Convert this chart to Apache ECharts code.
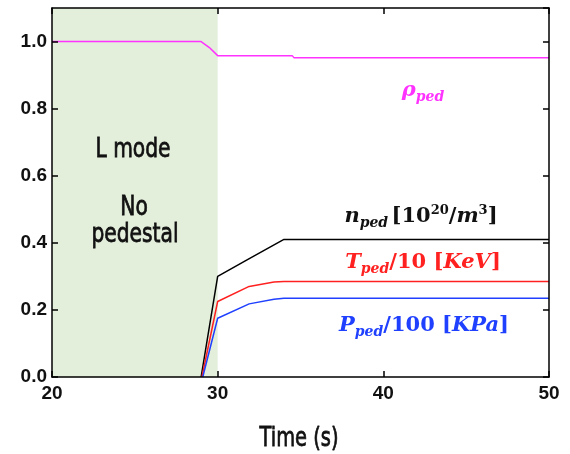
<!DOCTYPE html>
<html>
<head>
<meta charset="utf-8">
<script src="https://cdn.jsdelivr.net/npm/echarts@6/dist/echarts.min.js"></script>
<style>
  html, body { margin: 0; padding: 0; background: #fff; }
  #grafico { width: 570px; height: 454px; }
</style>
</head>
<body>
<div id="grafico"></div>
<script>
// datos: [tiempo (s), valor]
var rho_ped = [[20, 1.0], [29, 1.0], [29.5, 0.982], [30, 0.958], [34.5, 0.958], [34.6, 0.952], [50, 0.952]];
var n_ped = [[29, 0], [30, 0.30], [31.8, 0.35], [34, 0.41], [50, 0.41]];
var T_ped = [[29.05, 0], [30, 0.225], [31.9, 0.27], [33.4, 0.283], [34, 0.285], [50, 0.285]];
var P_ped = [[29.1, 0], [30, 0.175], [31.9, 0.218], [33.4, 0.232], [34, 0.235], [50, 0.235]];
var zona_lmode = [20, 30];

var fuente_mat = '"DejaVu Serif", "Liberation Serif", serif';
var fuente_txt = '27px "DejaVu Sans", sans-serif';

function estilo_rich(color) {
    return {
        i: { fontFamily: fuente_mat, fontStyle: 'italic', fontWeight: 'bold', fontSize: 21, fill: color },
        u: { fontFamily: fuente_mat, fontWeight: 'bold', fontSize: 21, fill: color },
        s: { fontFamily: fuente_mat, fontStyle: 'italic', fontWeight: 'bold', fontSize: 14, fill: color, padding: [13, 0, 0, 0] },
        sp: { fontFamily: fuente_mat, fontWeight: 'bold', fontSize: 13, fill: color, padding: [0, 0, 12, 0] }
    };
}

function serie(nombre, data, color) {
    return {
        name: nombre,
        type: 'line',
        data: data,
        symbol: 'none',
        lineStyle: { color: color, width: 1.5 },
        z: 3
    };
}

function texto(t, x, y, sx) {
    return {
        type: 'text', x: x, y: y, scaleX: sx, z: 10,
        style: { text: t, font: fuente_txt, fill: '#111', stroke: '#111', lineWidth: 0.8, align: 'center', verticalAlign: 'middle' }
    };
}

var myChart01 = echarts.init(document.getElementById('grafico'));

var eje_x = {
    type: 'value', min: 20, max: 50, interval: 10, z: 10,
    axisLine: { show: true, onZero: false, lineStyle: { color: '#000', width: 1.5 } },
    axisTick: { show: true, inside: true, length: 6, lineStyle: { color: '#000', width: 1.5 } },
    splitLine: { show: false }
};
var eje_y = {
    type: 'value', min: 0, max: 1.1, interval: 0.2, z: 10,
    axisLine: { show: true, onZero: false, lineStyle: { color: '#000', width: 1.5 } },
    axisTick: { show: true, inside: true, length: 6, lineStyle: { color: '#000', width: 1.5 } },
    splitLine: { show: false }
};

option = {
    animation: false,
    grid: { left: 52, right: 21, top: 8, bottom: 77 },
    xAxis: [
        Object.assign({}, eje_x, {
            position: 'bottom',
            axisLabel: { color: '#111', fontFamily: '"Liberation Sans", Arial, sans-serif', fontWeight: 'bold', fontSize: 19, margin: 7 }
        }),
        Object.assign({}, eje_x, { position: 'top', axisLabel: { show: false } })
    ],
    yAxis: [
        Object.assign({}, eje_y, {
            position: 'left',
            axisLabel: {
                color: '#111', fontFamily: '"Liberation Sans", Arial, sans-serif', fontWeight: 'bold', fontSize: 19, margin: 5,
                showMaxLabel: false,
                formatter: function (v) { return v.toFixed(1); }
            }
        }),
        Object.assign({}, eje_y, { position: 'right', axisLabel: { show: false } })
    ],
    series: [
        {
            type: 'line', data: [], symbol: 'none',
            markArea: {
                silent: true,
                itemStyle: { color: '#e3eedb' },
                data: [[{ xAxis: zona_lmode[0] }, { xAxis: zona_lmode[1] }]]
            },
            z: 1
        },
        serie('rho', rho_ped, '#ff33ff'),
        serie('n', n_ped, '#000000'),
        serie('T', T_ped, '#ff2020'),
        serie('P', P_ped, '#2040ff')
    ],
    graphic: [
        texto('L mode', 133, 150, 0.75),
        texto('No', 134, 208, 0.75),
        texto('pedestal', 135, 235, 0.75),
        texto('Time (s)', 299, 439, 0.72),
        { type: 'text', x: 423, y: 91, z: 10,
          style: { text: '{i|ρ}{s|ped}', rich: estilo_rich('#ff33ff'), align: 'center', verticalAlign: 'middle' } },
        { type: 'text', x: 421, y: 217, z: 10,
          style: { text: '{i|n}{s|ped} {u|[10}{sp|20}{u|/}{i|m}{sp|3}{u|]}', rich: estilo_rich('#111'), align: 'center', verticalAlign: 'middle' } },
        { type: 'text', x: 423, y: 263, z: 10,
          style: { text: '{i|T}{s|ped}{u|/10 [}{i|KeV}{u|]}', rich: estilo_rich('#ff2020'), align: 'center', verticalAlign: 'middle' } },
        { type: 'text', x: 424, y: 326, z: 10,
          style: { text: '{i|P}{s|ped}{u|/100 [}{i|KPa}{u|]}', rich: estilo_rich('#2040ff'), align: 'center', verticalAlign: 'middle' } }
    ]
};

myChart01.setOption(option, true);
</script>
</body>
</html>
